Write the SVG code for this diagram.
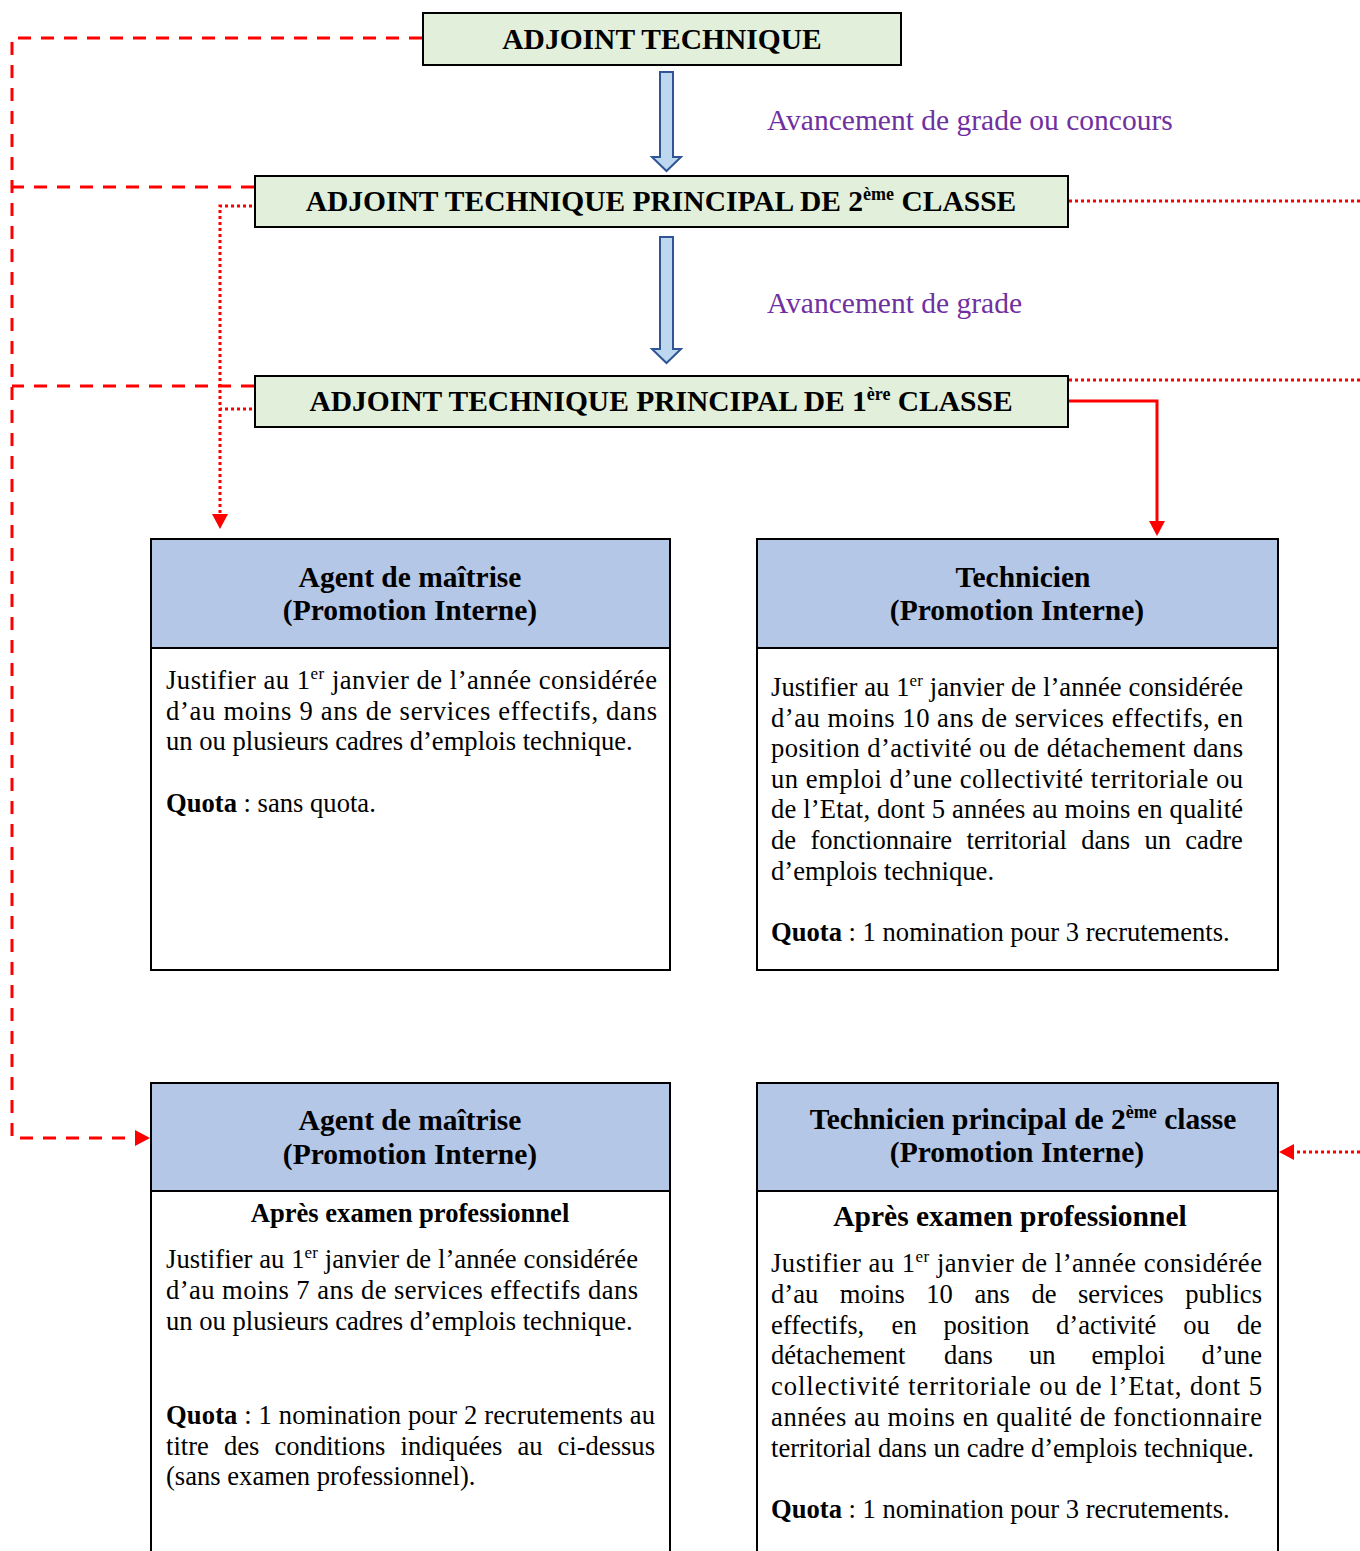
<svg xmlns="http://www.w3.org/2000/svg" width="1360" height="1551" viewBox="0 0 1360 1551">
<style>
text{font-family:"Liberation Serif","Times New Roman",serif;fill:#000}
.grade{fill:#E2EFDA;stroke:#000;stroke-width:2}
.box{fill:#fff;stroke:#000;stroke-width:2}
.head{fill:#B4C7E7;stroke:#000;stroke-width:2}
.h{font-size:29.5px;font-weight:bold;text-anchor:middle}
.b{font-size:26.6px}
.bb{font-size:26.6px;font-weight:bold}
.sup{font-size:17px}
.sup2{font-size:18px}
.lbl{font-size:29.5px;fill:#7030A0}
.dash{fill:none;stroke:#FF0000;stroke-width:3;stroke-dasharray:13 10}
.dot{fill:none;stroke:#FF0000;stroke-width:3;stroke-dasharray:3 3}
.solid{fill:none;stroke:#FF0000;stroke-width:3}
.blk{fill:#BDD7EE;stroke:#2F5597;stroke-width:2}
</style>
<defs>
<marker id="ah" viewBox="0 0 10 10" refX="0" refY="5" markerWidth="15" markerHeight="16" markerUnits="userSpaceOnUse" orient="auto" preserveAspectRatio="none">
<path d="M0,0 L10,5 L0,10 z" fill="#FF0000"/>
</marker>
</defs>

<g id="connectors">
<path class="dash" d="M422,38 H12 V1138 H135" marker-end="url(#ah)"/>
<path class="dash" d="M254,187 H12"/>
<path class="dash" d="M254,386 H12"/>
<path class="dot" d="M252,206 H220 V514" marker-end="url(#ah)"/>
<path class="dot" d="M252,409 H220"/>
<path class="dot" d="M1069,201 H1360"/>
<path class="dot" d="M1069,380 H1360"/>
<path class="dot" d="M1360,1152 H1294" marker-end="url(#ah)"/>
<path class="solid" d="M1069,401 H1157 V521" marker-end="url(#ah)"/>
<path class="blk" d="M660,72 H673 V157 H681 L666.5,171 L652,157 H660 Z"/>
<path class="blk" d="M660,237 H673 V349 H681 L666.5,363 L652,349 H660 Z"/>
<text class="lbl" x="767" y="130">Avancement de grade ou concours</text>
<text class="lbl" x="767" y="313">Avancement de grade</text>
</g>

<g id="adjoint-technique">
<rect class="grade" x="423" y="13" width="478" height="52"/>
<text class="h" x="662" y="49">ADJOINT TECHNIQUE</text>
</g>

<g id="adjoint-principal-2">
<rect class="grade" x="255" y="176" width="813" height="51"/>
<text class="h" x="661" y="211">ADJOINT TECHNIQUE PRINCIPAL DE 2<tspan class="sup2" dy="-11">ème</tspan><tspan dy="11"> CLASSE</tspan></text>
</g>

<g id="adjoint-principal-1">
<rect class="grade" x="255" y="376" width="813" height="51"/>
<text class="h" x="661" y="411">ADJOINT TECHNIQUE PRINCIPAL DE 1<tspan class="sup2" dy="-11">ère</tspan><tspan dy="11"> CLASSE</tspan></text>
</g>

<g id="agent-maitrise-1">
<rect class="box" x="151" y="539" width="519" height="431"/>
<rect class="head" x="151" y="539" width="519" height="109"/>
<text class="h" x="410" y="587">Agent de maîtrise</text>
<text class="h" x="410" y="620">(Promotion Interne)</text>
<text class="b" x="166" y="689" textLength="491" lengthAdjust="spacing">Justifier au 1<tspan class="sup" dy="-10">er</tspan><tspan dy="10"> janvier de l’année considérée</tspan></text>
<text class="b" x="166" y="720" textLength="491" lengthAdjust="spacing">d’au moins 9 ans de services effectifs, dans</text>
<text class="b" x="166" y="750">un ou plusieurs cadres d’emplois technique.</text>
<text class="b" x="166" y="812"><tspan class="bb">Quota</tspan> : sans quota.</text>
</g>

<g id="technicien">
<rect class="box" x="757" y="539" width="521" height="431"/>
<rect class="head" x="757" y="539" width="521" height="109"/>
<text class="h" x="1023" y="587">Technicien</text>
<text class="h" x="1017" y="620">(Promotion Interne)</text>
<text class="b" x="771" y="696" textLength="472" lengthAdjust="spacing">Justifier au 1<tspan class="sup" dy="-10">er</tspan><tspan dy="10"> janvier de l’année considérée</tspan></text>
<text class="b" x="771" y="727" textLength="472" lengthAdjust="spacing">d’au moins 10 ans de services effectifs, en</text>
<text class="b" x="771" y="757" textLength="472" lengthAdjust="spacing">position d’activité ou de détachement dans</text>
<text class="b" x="771" y="788" textLength="472" lengthAdjust="spacing">un emploi d’une collectivité territoriale ou</text>
<text class="b" x="771" y="818" textLength="472" lengthAdjust="spacing">de l’Etat, dont 5 années au moins en qualité</text>
<text class="b" y="849"><tspan x="771">de</tspan><tspan x="810.4">fonctionnaire</tspan><tspan x="966.5">territorial</tspan><tspan x="1081.3">dans</tspan><tspan x="1144.4">un</tspan><tspan x="1185.3">cadre</tspan></text>
<text class="b" x="771" y="880">d’emplois technique.</text>
<text class="b" x="771" y="941"><tspan class="bb">Quota</tspan> : 1 nomination pour 3 recrutements.</text>
</g>

<g id="agent-maitrise-2">
<rect class="box" x="151" y="1083" width="519" height="480"/>
<rect class="head" x="151" y="1083" width="519" height="108"/>
<text class="h" x="410" y="1130">Agent de maîtrise</text>
<text class="h" x="410" y="1164">(Promotion Interne)</text>
<text class="bb" x="410" y="1222" text-anchor="middle">Après examen professionnel</text>
<text class="b" x="166" y="1268" textLength="472" lengthAdjust="spacing">Justifier au 1<tspan class="sup" dy="-10">er</tspan><tspan dy="10"> janvier de l’année considérée</tspan></text>
<text class="b" x="166" y="1299" textLength="472" lengthAdjust="spacing">d’au moins 7 ans de services effectifs dans</text>
<text class="b" x="166" y="1330">un ou plusieurs cadres d’emplois technique.</text>
<text class="b" x="166" y="1424" textLength="489" lengthAdjust="spacing"><tspan class="bb">Quota</tspan> : 1 nomination pour 2 recrutements au</text>
<text class="b" y="1455"><tspan x="166">titre</tspan><tspan x="224">des</tspan><tspan x="274.5">conditions</tspan><tspan x="400.5">indiquées</tspan><tspan x="517.5">au</tspan><tspan x="557.5">ci-dessus</tspan></text>
<text class="b" x="166" y="1485">(sans examen professionnel).</text>
</g>

<g id="technicien-principal-2">
<rect class="box" x="757" y="1083" width="521" height="480"/>
<rect class="head" x="757" y="1083" width="521" height="108"/>
<text class="h" x="1023" y="1129">Technicien principal de 2<tspan class="sup2" dy="-11">ème</tspan><tspan dy="11"> classe</tspan></text>
<text class="h" x="1017" y="1162">(Promotion Interne)</text>
<text class="h" x="1010" y="1226">Après examen professionnel</text>
<text class="b" x="771" y="1272" textLength="491" lengthAdjust="spacing">Justifier au 1<tspan class="sup" dy="-10">er</tspan><tspan dy="10"> janvier de l’année considérée</tspan></text>
<text class="b" y="1303"><tspan x="771">d’au</tspan><tspan x="839.8">moins</tspan><tspan x="926.3">10</tspan><tspan x="974.4">ans</tspan><tspan x="1031.4">de</tspan><tspan x="1078">services</tspan><tspan x="1185.2">publics</tspan></text>
<text class="b" y="1334"><tspan x="771">effectifs,</tspan><tspan x="891.6">en</tspan><tspan x="943.5">position</tspan><tspan x="1056">d’activité</tspan><tspan x="1183.3">ou</tspan><tspan x="1236.7">de</tspan></text>
<text class="b" y="1364"><tspan x="771">détachement</tspan><tspan x="944.1">dans</tspan><tspan x="1028.9">un</tspan><tspan x="1091.5">emploi</tspan><tspan x="1201.4">d’une</tspan></text>
<text class="b" x="771" y="1395" textLength="491" lengthAdjust="spacing">collectivité territoriale ou de l’Etat, dont 5</text>
<text class="b" x="771" y="1426" textLength="491" lengthAdjust="spacing">années au moins en qualité de fonctionnaire</text>
<text class="b" x="771" y="1457">territorial dans un cadre d’emplois technique.</text>
<text class="b" x="771" y="1518"><tspan class="bb">Quota</tspan> : 1 nomination pour 3 recrutements.</text>
</g>
</svg>
